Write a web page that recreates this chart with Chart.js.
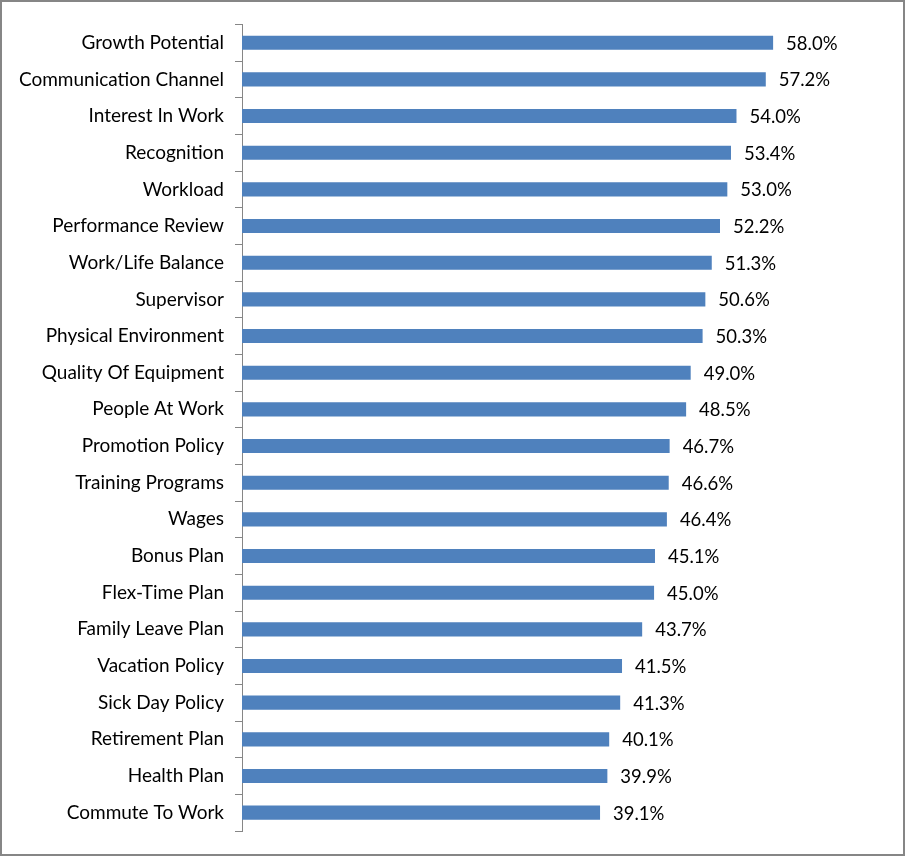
<!DOCTYPE html>
<html>
<head>
<meta charset="utf-8">
<script src="https://cdn.jsdelivr.net/npm/chart.js@4/dist/chart.umd.min.js"></script>
<style>
  html, body { margin: 0; padding: 0; background: #fff; }
  #caixa { width: 905px; height: 856px; box-sizing: border-box; border: 2px solid #868686; }
  #grafico { display: block; }
</style>
</head>
<body>
<div id="caixa"><canvas id="grafico" width="901" height="852"></canvas></div>
<script>
const categorias = [
    'Growth Potential', 'Communication Channel', 'Interest In Work', 'Recognition',
    'Workload', 'Performance Review', 'Work/Life Balance', 'Supervisor',
    'Physical Environment', 'Quality Of Equipment', 'People At Work', 'Promotion Policy',
    'Training Programs', 'Wages', 'Bonus Plan', 'Flex-Time Plan',
    'Family Leave Plan', 'Vacation Policy', 'Sick Day Policy', 'Retirement Plan',
    'Health Plan', 'Commute To Work'
]
const valores = [
    58.0, 57.2, 54.0, 53.4, 53.0, 52.2, 51.3, 50.6, 50.3, 49.0, 48.5, 46.7,
    46.6, 46.4, 45.1, 45.0, 43.7, 41.5, 41.3, 40.1, 39.9, 39.1
]
const eixoMin = 0
const eixoMax = 70

const fonte = 'Lato, "Liberation Sans", sans-serif'

// rotulos de valor a direita de cada barra
const rotulosValor = {
    id: 'rotulosValor',
    afterDatasetsDraw(chart) {
        const ctx = chart.ctx
        const meta = chart.getDatasetMeta(0)
        ctx.save()
        ctx.font = '18.5px ' + fonte
        ctx.fillStyle = '#000'
        ctx.textAlign = 'left'
        ctx.textBaseline = 'middle'
        meta.data.forEach((barra, i) => {
            ctx.fillText(valores[i].toFixed(1) + '%', barra.x + 13, barra.y + 1)
        })
        ctx.restore()
    }
}

const configuracao = {
    type: 'bar',
    data: {
        labels: categorias,
        datasets: [{
            data: valores,
            backgroundColor: '#4F81BD',
            borderWidth: 0,
            categoryPercentage: 1,
            barPercentage: 0.385
        }]
    },
    options: {
        indexAxis: 'y',
        responsive: false,
        animation: false,
        layout: { padding: { top: 21, bottom: 23, right: 20, left: 0 } },
        scales: {
            x: { display: false, min: eixoMin, max: eixoMax },
            y: {
                afterFit: (escala) => { escala.width = 240 },
                grid: { drawOnChartArea: false, drawTicks: true, tickLength: 7, color: '#868686' },
                border: { display: true, color: '#868686', width: 1 },
                ticks: { color: '#000', padding: 11, font: { family: fonte, size: 19 } }
            }
        },
        plugins: {
            legend: { display: false },
            tooltip: { enabled: false }
        }
    },
    plugins: [rotulosValor]
}

new Chart(document.getElementById('grafico'), configuracao)
</script>
</body>
</html>
